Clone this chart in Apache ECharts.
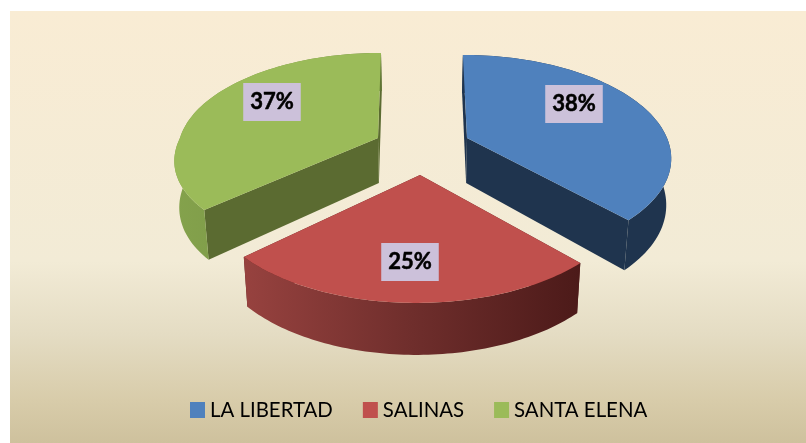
<!DOCTYPE html>
<html>
<head>
<meta charset="utf-8">
<style>html,body{margin:0;padding:0;background:#fff}#c{width:806px;height:443px}</style>
<script src="https://cdn.jsdelivr.net/npm/echarts@6/dist/echarts.min.js"></script>
</head>
<body>
<div id="c"></div>
<script>
const categories = ['LA LIBERTAD', 'SALINAS', 'SANTA ELENA'];
const shares = [38, 25, 37];

const topColors = ['#4F81BD', '#C0504D', '#9BBB59'];
const radialColors = ['#1F344E', '#5A1F1E', '#5B6B31'];
const sliceAnchors = [[467, 138], [417, 175], [378, 138]];
const apexNudge = [0, 3, 0];
const sliceRadiusX = [200, 208, 198];
const sliceRadiusY = [98, 105, 96];
const slicePersp = [0.179, 0.179, 0.128];
const sliceFrontShear = [0, 0, -19];
const labelOffsets = [[107, -34], [-7, 87], [-106, -36]];

const PIE_CX = 422, DEPTH = 45, DEPTH_GROW = 7, TAPER = 0.98;
const total = shares.reduce((s, v) => s + v, 0);

function rimGradient(i) {
  const stops = [
    [[0, '#1F344E'], [1, '#1F344E']],
    [[0, '#97423F'], [0.5, '#6F2E2C'], [1, '#4C1A19']],
    [[0, '#84A24C'], [0.6, '#7A9646'], [1, '#5F7534']]
  ][i];
  return new echarts.graphic.LinearGradient(0, 0, 1, 0,
    stops.map(s => ({ offset: s[0], color: s[1] })));
}

function renderSlice(params, api) {
  const i = params.seriesIndex;
  const value = api.value(0);
  const before = shares.slice(0, i).reduce((s, v) => s + v, 0);
  const t0 = before / total * Math.PI * 2;
  const t1 = (before + value) / total * Math.PI * 2;
  const [ax, ay] = sliceAnchors[i];
  const rimPoint = t => {
    const X = Math.sin(t), Y = -Math.cos(t), f = 1 / (1 - slicePersp[i] * Y);
    return [
      ax + sliceRadiusX[i] * X * f + 0.6 * (ax - PIE_CX) * (f - 1) + sliceFrontShear[i] * Math.max(Y, 0),
      ay + sliceRadiusY[i] * Y * f,
      Y
    ];
  };
  const down = p => [PIE_CX + (p[0] - PIE_CX) * TAPER, p[1] + DEPTH + DEPTH_GROW * p[2]];
  const arc = [];
  const steps = 80;
  for (let k = 0; k <= steps; k++) arc.push(rimPoint(t0 + (t1 - t0) * k / steps));
  const apex = [ax + apexNudge[i], ay, 0];
  const flat = p => [p[0], p[1]];
  const poly = (pts, fill) => ({ type: 'polygon', shape: { points: pts }, style: { fill: fill, stroke: null } });
  const children = [
    poly([flat(apex), flat(arc[0]), down(arc[0]), down(apex)], radialColors[i]),
    poly([flat(apex), flat(arc[steps]), down(arc[steps]), down(apex)], radialColors[i]),
    poly(arc.map(flat).concat(arc.map(down).reverse()), rimGradient(i)),
    poly([flat(apex)].concat(arc.map(flat)), topColors[i]),
    {
      type: 'text',
      x: ax + labelOffsets[i][0],
      y: ay + labelOffsets[i][1],
      style: {
        text: value + '%',
        fill: '#000',
        stroke: '#000',
        lineWidth: 0.5,
        font: 'bold 22px Lato, "Open Sans", sans-serif',
        align: 'center',
        verticalAlign: 'middle',
        backgroundColor: '#CCC1DA',
        padding: [8, 7, 8, 7]
      },
      z2: 10
    }
  ];
  return { type: 'group', children: children };
}

const chart = echarts.init(document.getElementById('c'), null, { renderer: 'canvas' });
chart.setOption({
  animation: false,
  backgroundColor: '#ffffff',
  graphic: [{
    type: 'rect',
    z: -10,
    shape: { x: 10, y: 11, width: 796, height: 432 },
    style: {
      fill: new echarts.graphic.LinearGradient(0, 0, 0, 1, [
        { offset: 0, color: '#F9ECD4' },
        { offset: 0.58, color: '#F2EBD6' },
        { offset: 0.75, color: '#E4DCC3' },
        { offset: 0.9, color: '#D8CCAA' },
        { offset: 1, color: '#CEC19D' }
      ])
    }
  }],
  legend: {
    show: true,
    left: 190,
    top: 400,
    padding: 0,
    icon: 'rect',
    itemWidth: 15,
    itemHeight: 16,
    itemGap: 30,
    data: categories,
    textStyle: { color: '#000', fontSize: 20.4, fontFamily: 'Lato, "Open Sans", sans-serif' },
    selectedMode: false
  },
  series: categories.map((name, i) => ({
    type: 'custom',
    name: name,
    coordinateSystem: 'none',
    silent: true,
    itemStyle: { color: topColors[i] },
    renderItem: renderSlice,
    data: [[shares[i]]]
  }))
});
</script>
</body>
</html>
